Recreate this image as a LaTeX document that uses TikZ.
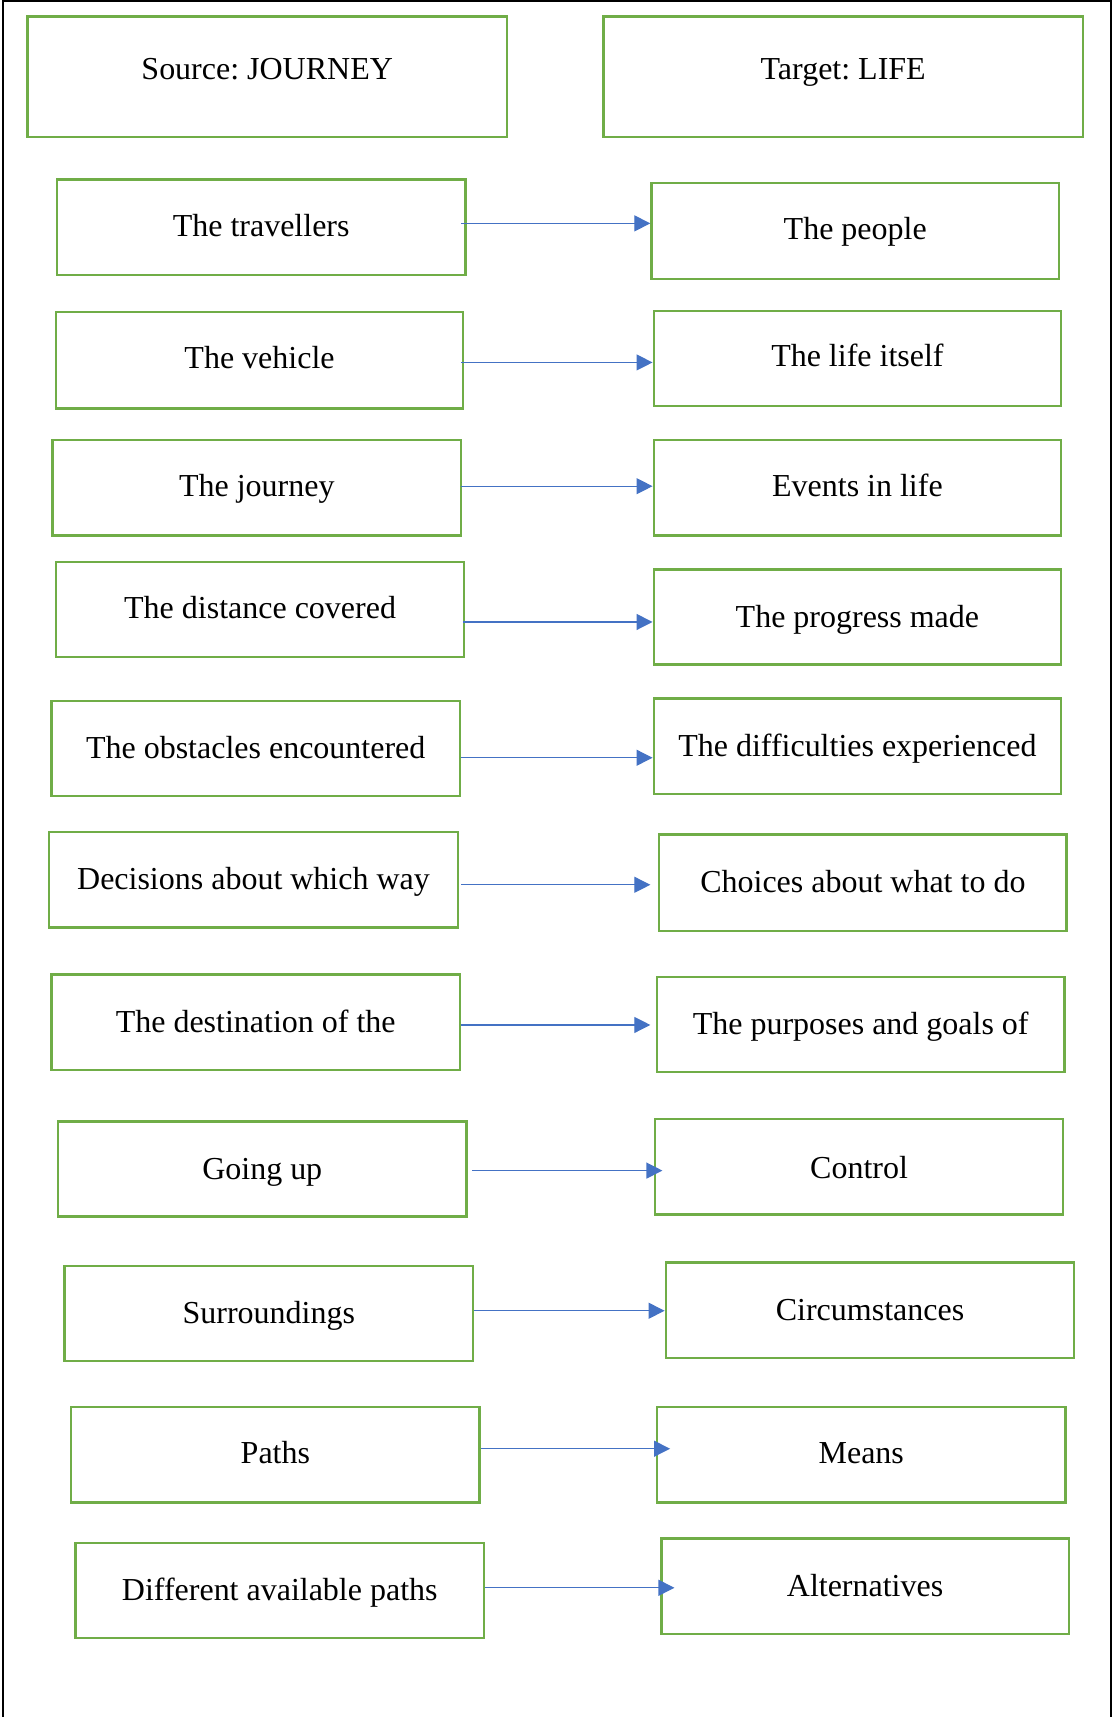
\documentclass[tikz,border=0pt]{standalone}
\usepackage{fontspec}
\setmainfont{Liberation Serif}
\frenchspacing
\usetikzlibrary{arrows.meta,calc}
\definecolor{boxgreen}{HTML}{70AD47}
\definecolor{arrblue}{HTML}{4472C4}
\newcommand\bx[7]{%
  \node[box, minimum width={(#3-#2)*0.5477pt}, minimum height={(#5-#4)*0.5477pt}] (#1) at ({(#2+#3)/2},{(#4+#5)/2}) {};
  \node[txt] (#1t) at ({(#2+#3)/2},#6) {#7};}
\newcommand\con[5]{%
  \draw[arr] ($(L#1.east |- 0,#2)+(#3,0)$) -- ($(R#1.west |- 0,#2)+(#4,0)$);}
\begin{document}
\begin{tikzpicture}[x=0.5477pt,y=-0.5477pt,
  box/.style={draw=boxgreen, line width=1.2pt, rectangle, inner sep=0pt},
  txt/.style={inner sep=0pt, text height=0.7em, text depth=0.2em, yshift=-2.9pt, font=\fontsize{16}{19}\selectfont},
  arr/.style={draw=arrblue, line width=0.6pt, -{Triangle[length=8pt,width=8pt]}, arrblue}]
\useasboundingbox (0,0) rectangle (1017,1568);
\draw[line width=1pt] (3,1570) -- (3,1) -- (1015,1) -- (1015,1570);
\bx{L1}{25}{463}{15}{125}{63}{Source: JOURNEY}
\bx{R1}{551}{989}{15}{125}{63}{Target: LIFE}
\bx{L2}{52}{425}{164}{251}{206}{The travellers}
\bx{R2}{595}{967}{167}{255}{209}{The people}
\bx{L3}{51}{423}{285}{373}{327}{The vehicle}
\bx{R3}{597}{969}{284}{371}{325}{The life itself}
\bx{L4}{48}{421}{402}{489}{444}{The journey}
\bx{R4}{597}{969}{402}{489}{444}{Events in life}
\bx{L5}{51}{424}{513}{600}{555}{The distance covered}
\bx{R5}{597}{969}{520}{607}{563}{The progress made}
\bx{L6}{47}{420}{640}{727}{683}{The obstacles encountered}
\bx{R6}{597}{969}{638}{725}{681}{The difficulties experienced}
\bx{L7}{45}{418}{760}{847}{802}{Decisions about which way}
\bx{R7}{602}{974}{762}{850}{805}{Choices about what to do}
\bx{L8}{47}{420}{890}{977}{933}{The destination of the}
\bx{R8}{600}{972}{892}{979}{935}{The purposes and goals of}
\bx{L9}{53}{426}{1024}{1111}{1067}{Going up}
\bx{R9}{598}{971}{1022}{1109}{1066}{Control}
\bx{L10}{59}{432}{1156}{1243}{1199}{Surroundings}
\bx{R10}{608}{981}{1153}{1240}{1196}{Circumstances}
\bx{L11}{65}{438}{1285}{1372}{1327}{Paths}
\bx{R11}{600}{973}{1285}{1372}{1327}{Means}
\bx{L12}{69}{442}{1409}{1496}{1452}{Different available paths}
\bx{R12}{604}{976}{1405}{1492}{1448}{Alternatives}
\con{2}{204}{-5}{0}{}
\con{3}{331}{-3}{0}{}
\con{4}{444}{-1}{0}{}
\con{5}{568}{-2}{0}{}
\con{6}{692}{0}{0}{}
\con{7}{808}{2}{-7}{}
\con{8}{936}{0}{-5}{}
\con{9}{1069}{4}{8}{}
\con{10}{1197}{0}{0}{}
\con{11}{1323}{0}{13}{}
\con{12}{1450}{0}{13}{}
\end{tikzpicture}
\end{document}
